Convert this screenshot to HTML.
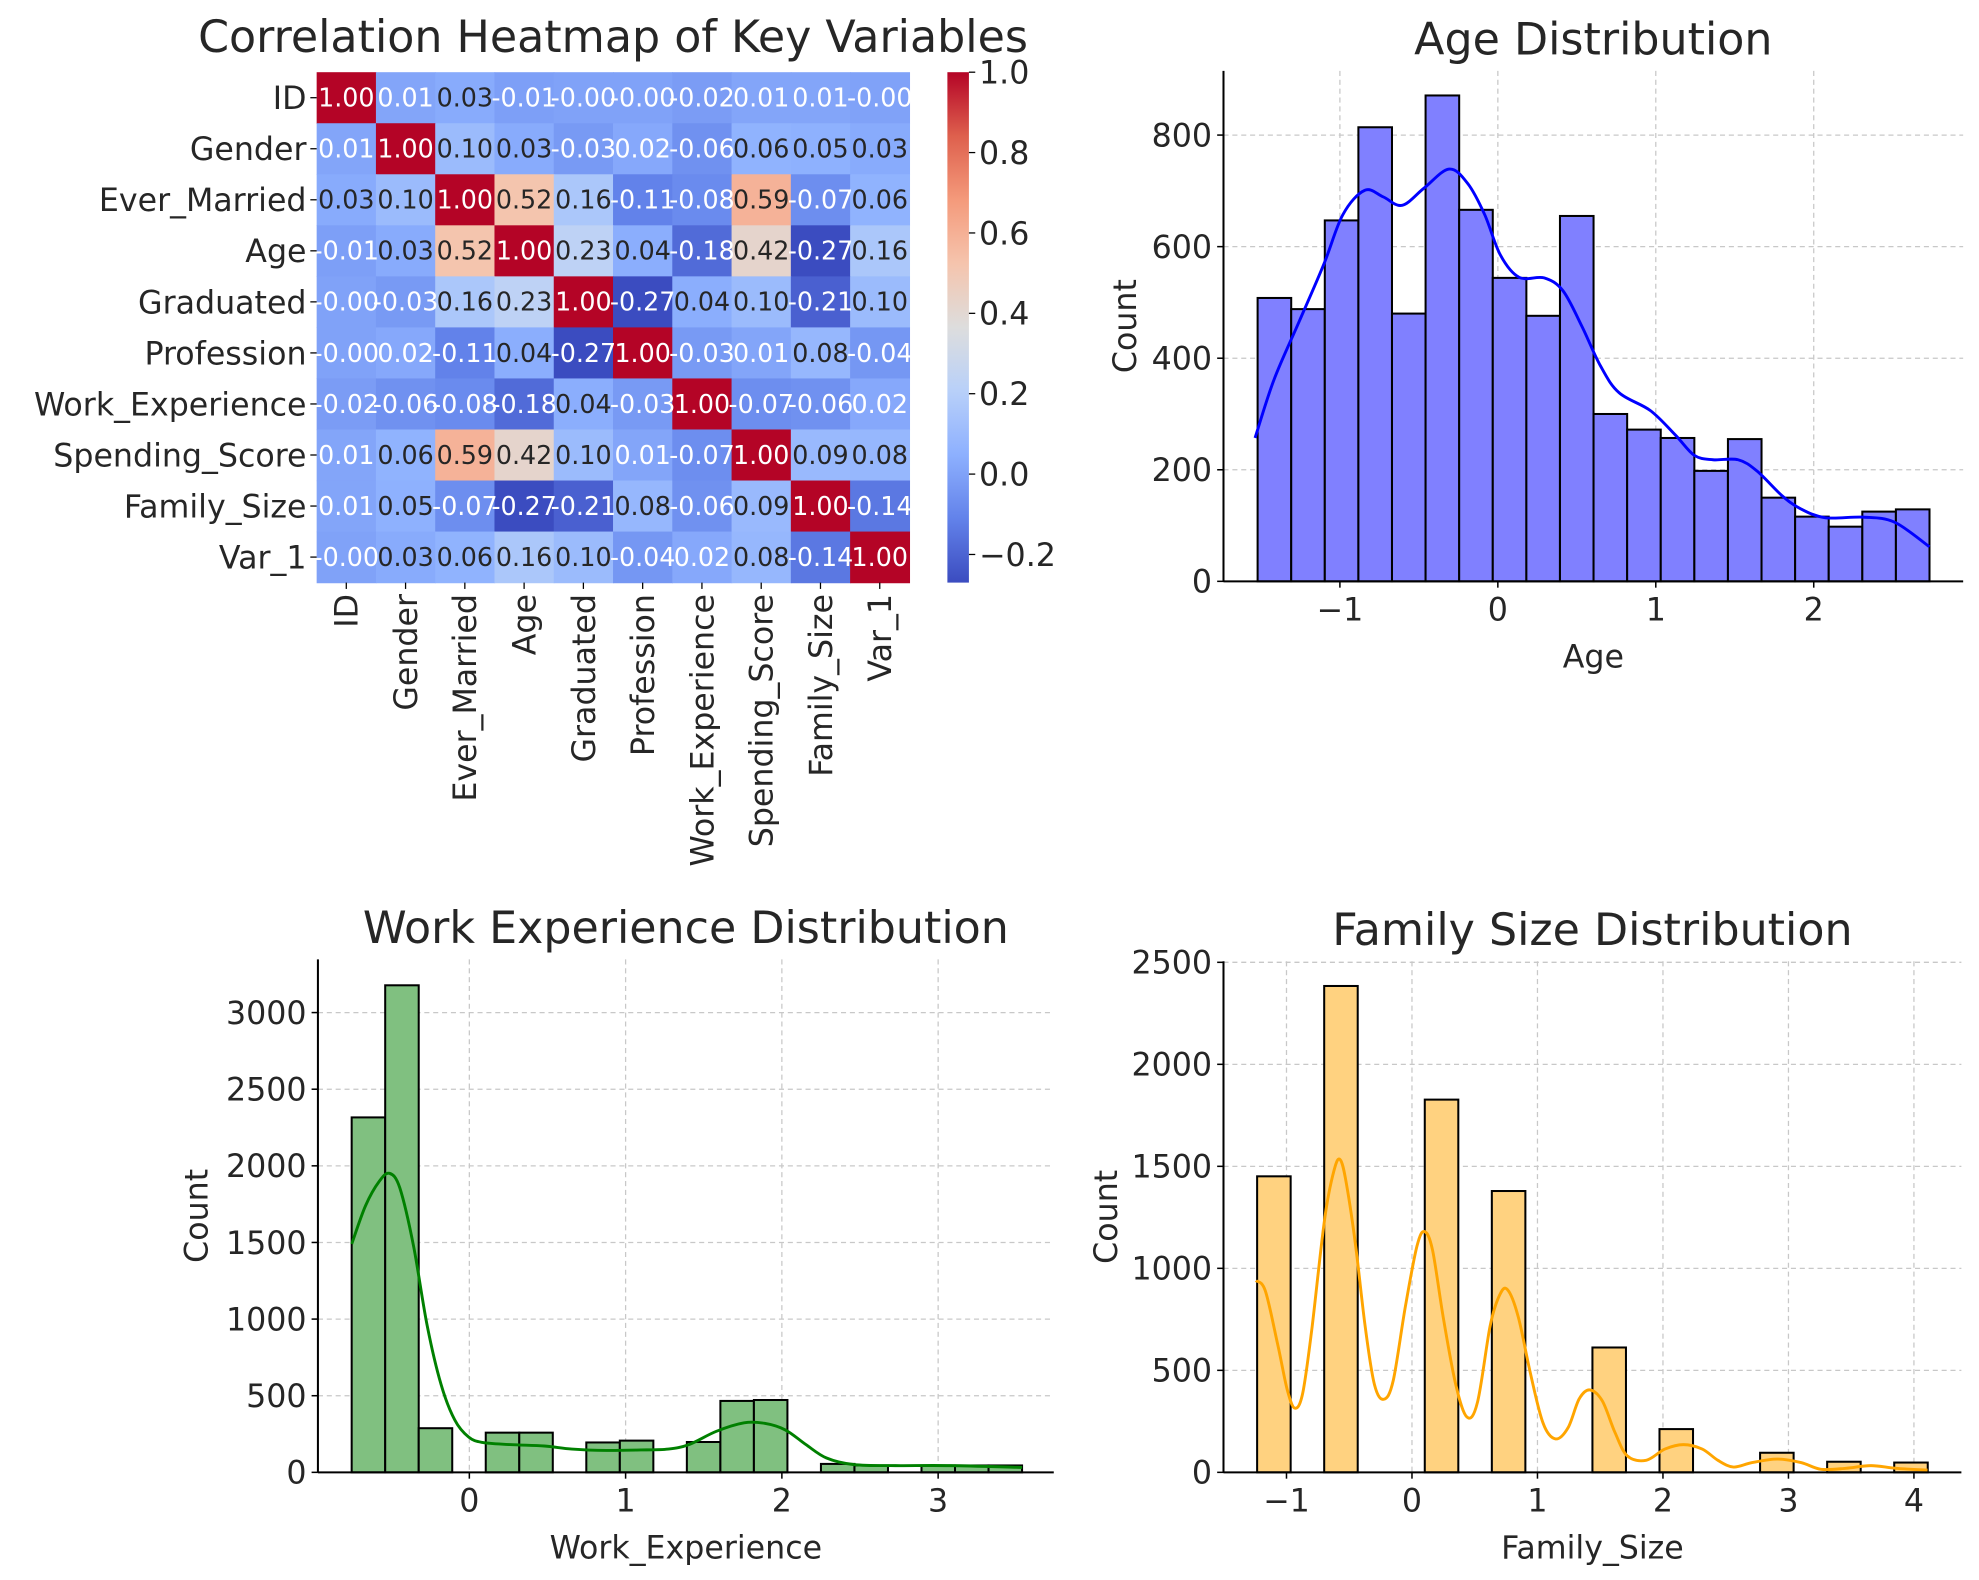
<!DOCTYPE html>
<html><head><meta charset="utf-8"><style>
html,body{margin:0;padding:0;background:#fff;}
svg{display:block;font-family:"DejaVu Sans","Liberation Sans",sans-serif;}
</style></head><body>
<svg id="fig" width="1979" height="1580" viewBox="0 0 1562.5 1247.5" xmlns="http://www.w3.org/2000/svg"></svg>
<script>
// ---------- DATA ----------
const hmLabels = ["ID","Gender","Ever_Married","Age","Graduated","Profession","Work_Experience","Spending_Score","Family_Size","Var_1"];
const hmRow0 = [1,0.01,0.03,-0.01,-0.001,-0.001,-0.02,0.01,0.01,-0.001];
const hmRow1 = [0.01,1,0.10,0.03,-0.03,0.02,-0.06,0.06,0.05,0.03];
const hmRow2 = [0.03,0.10,1,0.52,0.16,-0.11,-0.08,0.59,-0.07,0.06];
const hmRow3 = [-0.01,0.03,0.52,1,0.23,0.04,-0.18,0.42,-0.27,0.16];
const hmRow4 = [-0.001,-0.03,0.16,0.23,1,-0.27,0.04,0.10,-0.21,0.10];
const hmRow5 = [-0.001,0.02,-0.11,0.04,-0.27,1,-0.03,0.01,0.08,-0.04];
const hmRow6 = [-0.02,-0.06,-0.08,-0.18,0.04,-0.03,1,-0.07,-0.06,0.02];
const hmRow7 = [0.01,0.06,0.59,0.42,0.10,0.01,-0.07,1,0.09,0.08];
const hmRow8 = [0.01,0.05,-0.07,-0.27,-0.21,0.08,-0.06,0.09,1,-0.14];
const hmRow9 = [-0.001,0.03,0.06,0.16,0.10,-0.04,0.02,0.08,-0.14,1];
const cbTicks = [-0.2,0.0,0.2,0.4,0.6,0.8,1.0];

const ageStart = -1.521, ageWidth = 0.2127;
const ageCounts = [508,488,647,814,480,871,666,544,476,655,300,272,257,198,255,150,116,98,125,129];
const ageKdeX = [-1.537,-1.418,-1.259,-1.101,-0.982,-0.843,-0.725,-0.606,-0.467,-0.309,-0.190,-0.083,0.016,0.135,0.293,0.412,0.531,0.650,0.768,0.966,1.125,1.244,1.362,1.521,1.640,1.798,1.917,2.075,2.313,2.511,2.733];
const ageKdeY = [257,361,465,569,657,701,689,674,705,739,713,657,585,545,544,521,458,386,338,306,262,226,218,218,198,154,130,114,115,106,62];
const ageXTicks = [-1,0,1,2];
const ageYTicks = [0,200,400,600,800];

const workStart = -0.753, workWidth = 0.2145;
const workCounts = [2316,3178,288,0,259,259,0,195,207,0,198,466,472,0,55,45,0,45,45,45];
const workKdeX = [-0.753,-0.665,-0.577,-0.511,-0.445,-0.357,-0.269,-0.181,-0.093,-0.004,0.084,0.260,0.480,0.656,0.877,1.097,1.273,1.405,1.581,1.758,1.890,2.022,2.154,2.286,2.463,2.727,3.079,3.537];
const workKdeY = [1490,1738,1898,1951,1855,1477,952,574,341,230,195,181,172,152,143,146,152,181,268,323,320,277,181,93,50,44,44,32];
const workXTicks = [0,1,2,3];
const workYTicks = [0,500,1000,1500,2000,2500,3000];

const famStart = -1.234, famWidth = 0.2672;
const famCounts = [1451,0,2384,0,0,1827,0,1379,0,0,612,0,212,0,0,96,0,52,0,48];
const famKdeX = [-1.244,-1.169,-1.070,-0.995,-0.935,-0.871,-0.796,-0.697,-0.622,-0.572,-0.522,-0.448,-0.373,-0.299,-0.224,-0.149,-0.050,0.040,0.100,0.164,0.249,0.348,0.438,0.522,0.622,0.697,0.761,0.846,0.945,1.045,1.144,1.244,1.333,1.418,1.517,1.617,1.716,1.866,2.015,2.164,2.313,2.438,2.562,2.711,2.910,3.100,3.259,3.458,3.657,3.856,4.109];
const famKdeY = [940,890,627,408,315,387,714,1238,1478,1533,1413,1107,714,430,358,452,823,1110,1180,1088,760,433,271,343,714,867,896,765,481,240,164,219,361,404,350,197,81,59,114,136,114,59,26,48,65,48,15,20,33,20,11,22];
const famXTicks = [-1,0,1,2,3,4];
const famYTicks = [0,500,1000,1500,2000,2500];

// ---------- HELPERS ----------
const NS = "http://www.w3.org/2000/svg";
const svg = document.getElementById('fig');
function mk(tag, attrs, parent){ const e=document.createElementNS(NS,tag); for(const k in attrs) e.setAttribute(k,attrs[k]); (parent||svg).appendChild(e); return e; }
function txt(s, attrs, parent){ const e=mk('text',attrs,parent); e.textContent=s; return e; }
const TXT = "#262626";
function fmtTick(v){ return (v<0?"\u2212":"")+Math.abs(v); }

const cwStops = [[59,76,192],[98,130,234],[141,176,254],[184,208,249],[221,221,221],[245,196,173],[244,154,123],[222,96,77],[180,4,38]];
function coolwarm(t){ t=Math.max(0,Math.min(1,t)); const p=t*8; const i=Math.min(7,Math.floor(p)); const f=p-i; const a=cwStops[i], b=cwStops[i+1]; return [0,1,2].map(k=>Math.round(a[k]+(b[k]-a[k])*f)); }
function lum(c){ return c.map(v=>{v/=255; return v<=0.03928? v/12.92 : Math.pow((v+0.055)/1.055,2.4);}).reduce((s,v,i)=>s+v*[0.2126,0.7152,0.0722][i],0); }

// ---------- HEATMAP ----------
const hmRows = [hmRow0,hmRow1,hmRow2,hmRow3,hmRow4,hmRow5,hmRow6,hmRow7,hmRow8,hmRow9];
const HL=250, HR=718, HT=57, HB=460, VMIN=-0.27, VMAX=1.0;
const cw=(HR-HL)/hmLabels.length, ch=(HB-HT)/hmLabels.length;
const hmG = mk('g',{});


const ht = txt("Correlation Heatmap of Key Variables",{x:484,y:41,'font-size':35,'text-anchor':'middle',fill:TXT});


hmRows.forEach((row,r)=>{
  row.forEach((v,c)=>{
    const col=coolwarm((v-VMIN)/(VMAX-VMIN));
    const rect=mk('rect',{x:HL+c*cw,y:HT+r*ch,width:cw+0.5,height:ch+0.5,fill:`rgb(${col})`},hmG);
    
    
  });
});
hmRows.forEach((row,r)=>{
  row.forEach((v,c)=>{
    const col=coolwarm((v-VMIN)/(VMAX-VMIN));
    const t=txt(v.toFixed(2),{x:HL+(c+0.5)*cw,y:HT+(r+0.5)*ch+7,'font-size':20,'text-anchor':'middle',fill: lum(col)<0.408?'#ffffff':'#262626'},hmG);
    
    
  });
});
hmLabels.forEach((lab,i)=>{
  const y=HT+(i+0.5)*ch;
  mk('line',{x1:HL-5,x2:HL,y1:y,y2:y,stroke:'#000','stroke-width':1});
  const t=txt(lab,{x:HL-8,y:y+9,'font-size':25,'text-anchor':'end',fill:TXT});
  
  
  const x=HL+(i+0.5)*cw;
  mk('line',{x1:x,x2:x,y1:HB,y2:HB+5,stroke:'#000','stroke-width':1});
  const t2=txt(lab,{x:0,y:0,'font-size':25,'text-anchor':'end',fill:TXT,transform:`translate(${x+9},${HB+9}) rotate(-90)`});
  
  
});
const CBL=748, CBW=17;
const defs=mk('defs',{});
const grad=mk('linearGradient',{id:'cwgrad',x1:0,y1:1,x2:0,y2:0},defs);
for(let i=0;i<=16;i++){ const c=coolwarm(i/16); mk('stop',{offset:(i/16),'stop-color':`rgb(${c})`},grad); }
const cb=mk('rect',{x:CBL,y:HT,width:CBW,height:HB-HT,fill:'url(#cwgrad)'});


cbTicks.forEach(v=>{
  const y=HB-(v-VMIN)/(VMAX-VMIN)*(HB-HT);
  mk('line',{x1:CBL+CBW,x2:CBL+CBW+5,y1:y,y2:y,stroke:'#000','stroke-width':1});
  const t=txt((v<0?"\u2212":"")+Math.abs(v).toFixed(1),{x:CBL+CBW+8,y:y+9,'font-size':25,fill:TXT});
  
  
});

// ---------- HISTOGRAMS ----------
function smoothPath(pts){
  let d='M'+pts[0][0].toFixed(1)+','+pts[0][1].toFixed(1);
  for(let i=0;i<pts.length-1;i++){
    const p0=pts[Math.max(0,i-1)],p1=pts[i],p2=pts[i+1],p3=pts[Math.min(pts.length-1,i+2)];
    const c1=[p1[0]+(p2[0]-p0[0])/6,p1[1]+(p2[1]-p0[1])/6];
    const c2=[p2[0]-(p3[0]-p1[0])/6,p2[1]-(p3[1]-p1[1])/6];
    d+=` C${c1[0].toFixed(1)},${c1[1].toFixed(1)} ${c2[0].toFixed(1)},${c2[1].toFixed(1)} ${p2[0].toFixed(1)},${p2[1].toFixed(1)}`;
  }
  return d;
}
function hist(o){
  const g=mk('g',{});
  
  
  const sx=v=>o.L+(v-o.x0)/(o.x1-o.x0)*(o.R-o.L);
  const sy=v=>o.B-(v-o.y0)/(o.y1-o.y0)*(o.B-o.T);
  o.xt.forEach(v=>{ mk('line',{x1:sx(v),x2:sx(v),y1:o.T,y2:o.B,stroke:'#c8c8c8','stroke-width':1,'stroke-dasharray':'4,3'},g); });
  o.yt.forEach(v=>{ mk('line',{x1:o.L,x2:o.R,y1:sy(v),y2:sy(v),stroke:'#c8c8c8','stroke-width':1,'stroke-dasharray':'4,3'},g); });
  o.counts.forEach((c,i)=>{
    if(c<=0) return;
    const xa=sx(o.start+i*o.width), xb=sx(o.start+(i+1)*o.width);
    const b=mk('rect',{x:xa,y:sy(c),width:xb-xa,height:sy(0)-sy(c),fill:o.fill,stroke:'#000','stroke-width':1.6},g);
    
    
  });
  const pts=o.kx.map((x,i)=>[sx(x),sy(o.ky[i])]);
  const kl=mk('path',{d:smoothPath(pts),fill:'none',stroke:o.line,'stroke-width':2.3,'stroke-linejoin':'round'},g);
  
  
  mk('line',{x1:o.L,x2:o.L,y1:o.T,y2:o.B,stroke:'#000','stroke-width':1.6},g);
  mk('line',{x1:o.L,x2:o.R,y1:o.B,y2:o.B,stroke:'#000','stroke-width':1.6},g);
  o.xt.forEach(v=>{
    mk('line',{x1:sx(v),x2:sx(v),y1:o.B,y2:o.B+5,stroke:'#000','stroke-width':1.2},g);
    const t=txt(fmtTick(v),{x:sx(v),y:o.B+31,'font-size':25,'text-anchor':'middle',fill:TXT},g);
    
    
  });
  o.yt.forEach(v=>{
    mk('line',{x1:o.L-5,x2:o.L,y1:sy(v),y2:sy(v),stroke:'#000','stroke-width':1.2},g);
    const t=txt(fmtTick(v),{x:o.L-9,y:sy(v)+9,'font-size':25,'text-anchor':'end',fill:TXT},g);
    
    
  });
  const tt=txt(o.title,{x:(o.L+o.R)/2,y:o.T-13,'font-size':35,'text-anchor':'middle',fill:TXT},g);
  
  
  const xl=txt(o.xlabel,{x:(o.L+o.R)/2,y:o.B+68,'font-size':25,'text-anchor':'middle',fill:TXT},g);
  
  
  const yl=txt('Count',{x:0,y:0,'font-size':25,'text-anchor':'middle',fill:TXT,transform:`translate(${o.ylx},${(o.T+o.B)/2}) rotate(-90)`},g);
  
  
}
hist({name:'age-distribution-chart',title:'Age Distribution',xlabel:'Age',L:966,R:1550,T:56,B:459,x0:-1.737,x1:2.946,y0:0,y1:915,
  counts:ageCounts,start:ageStart,width:ageWidth,kx:ageKdeX,ky:ageKdeY,xt:ageXTicks,yt:ageYTicks,fill:'#8080ff',line:'#0000ff',ylx:897});
hist({name:'work-experience-chart',title:'Work Experience Distribution',xlabel:'Work_Experience',L:251,R:832,T:757.5,B:1162.5,x0:-0.969,x1:3.740,y0:0,y1:3347,
  counts:workCounts,start:workStart,width:workWidth,kx:workKdeX,ky:workKdeY,xt:workXTicks,yt:workYTicks,fill:'#80c080',line:'#008000',ylx:164});
hist({name:'family-size-chart',title:'Family Size Distribution',xlabel:'Family_Size',L:966,R:1548.6,T:759,B:1162.5,x0:-1.502,x1:4.378,y0:0,y1:2505,
  counts:famCounts,start:famStart,width:famWidth,kx:famKdeX,ky:famKdeY,xt:famXTicks,yt:famYTicks,fill:'#ffd280',line:'#ffa500',ylx:882});
</script>
</body></html>
